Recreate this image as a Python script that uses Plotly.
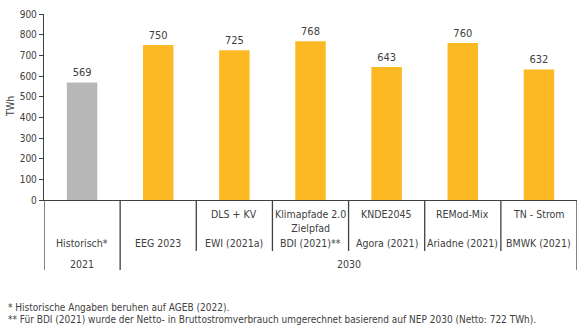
import plotly.graph_objects as go

# Data
models = ["Historisch*", "EEG 2023", "EWI (2021a)", "BDI (2021)**", "Agora (2021)", "Ariadne (2021)", "BMWK (2021)"]
scenarios = ["", "", "DLS + KV", "Klimapfade 2.0<br>Zielpfad", "KNDE2045", "REMod-Mix", "TN - Strom"]
values = [569, 750, 725, 768, 643, 760, 632]
year_groups = [("2021", 0, 0), ("2030", 1, 6)]
footnotes = [
    "* Historische Angaben beruhen auf AGEB (2022).",
    "** Für BDI (2021) wurde der Netto- in Bruttostromverbrauch umgerechnet basierend auf NEP 2030 (Netto: 722 TWh).",
]

FONT = "DejaVu Sans Condensed"
TXT = "#404040"
GRAY = "#b7b7b7"
ORANGE = "#fdb924"

colors = [GRAY] + [ORANGE] * (len(values) - 1)
xs = list(range(len(values)))

fig = go.Figure()
fig.add_trace(go.Bar(
    x=xs, y=values, width=0.4,
    marker=dict(color=colors, line=dict(width=0)),
    text=[str(v) for v in values], textposition="outside",
    textfont=dict(family=FONT, size=11, color=TXT),
    cliponaxis=False, hoverinfo="skip",
))

annotations = []
shapes = []
for i, (m, s) in enumerate(zip(models, scenarios)):
    if s:
        annotations.append(dict(x=i, y=0, xref="x", yref="paper", text=s, showarrow=False,
                                yanchor="top", yshift=-6, font=dict(family=FONT, size=10.5, color=TXT)))
    annotations.append(dict(x=i, y=0, xref="x", yref="paper", text=m, showarrow=False,
                            yanchor="middle", yshift=-43, font=dict(family=FONT, size=10.5, color=TXT)))
for label, a, b in year_groups:
    annotations.append(dict(x=(a + b) / 2, y=0, xref="x", yref="paper", text=label, showarrow=False,
                            yanchor="middle", yshift=-64, font=dict(family=FONT, size=10.5, color=TXT)))
n = len(values)
group_edges = set()
for label, a, b in year_groups:
    group_edges.add(a - 0.5)
    group_edges.add(b + 0.5)
for k in range(n + 1):
    xe = k - 0.5
    length = 70 if xe in group_edges else 51
    shapes.append(dict(type="line", xref="x", yref="paper", ysizemode="pixel", yanchor=0,
                       x0=xe, x1=xe, y0=0, y1=-length, line=dict(color=TXT, width=1.3)))
for j, f in enumerate(footnotes):
    annotations.append(dict(x=0, y=0, xref="paper", yref="paper", text=f, showarrow=False,
                            xanchor="left", yanchor="middle", xshift=-38, yshift=-107 - 12.5 * j,
                            font=dict(family=FONT, size=10, color=TXT)))
annotations.append(dict(x=0, y=0.5, xref="paper", yref="paper", text="TWh", showarrow=False,
                        textangle=-90, xanchor="center", yanchor="middle", xshift=-34,
                        font=dict(family=FONT, size=10, color=TXT)))

fig.update_layout(
    width=588, height=328,
    margin=dict(l=44, r=11, t=14, b=128, autoexpand=False),
    plot_bgcolor="white", paper_bgcolor="white",
    showlegend=False,
    annotations=annotations, shapes=shapes,
    font=dict(family=FONT, color=TXT),
    xaxis=dict(range=[-0.5, n - 0.5], showticklabels=False, showgrid=False, zeroline=False,
               showline=True, linecolor=TXT, linewidth=1.3, ticks="", automargin=False),
    yaxis=dict(range=[0, 900], dtick=100, showgrid=False, zeroline=False, automargin=False,
               showline=True, linecolor=TXT, linewidth=1.3, ticks="outside", ticklen=4,
               tickcolor=TXT, tickfont=dict(family=FONT, size=10, color=TXT)),
)

fig.write_html("out.html")
